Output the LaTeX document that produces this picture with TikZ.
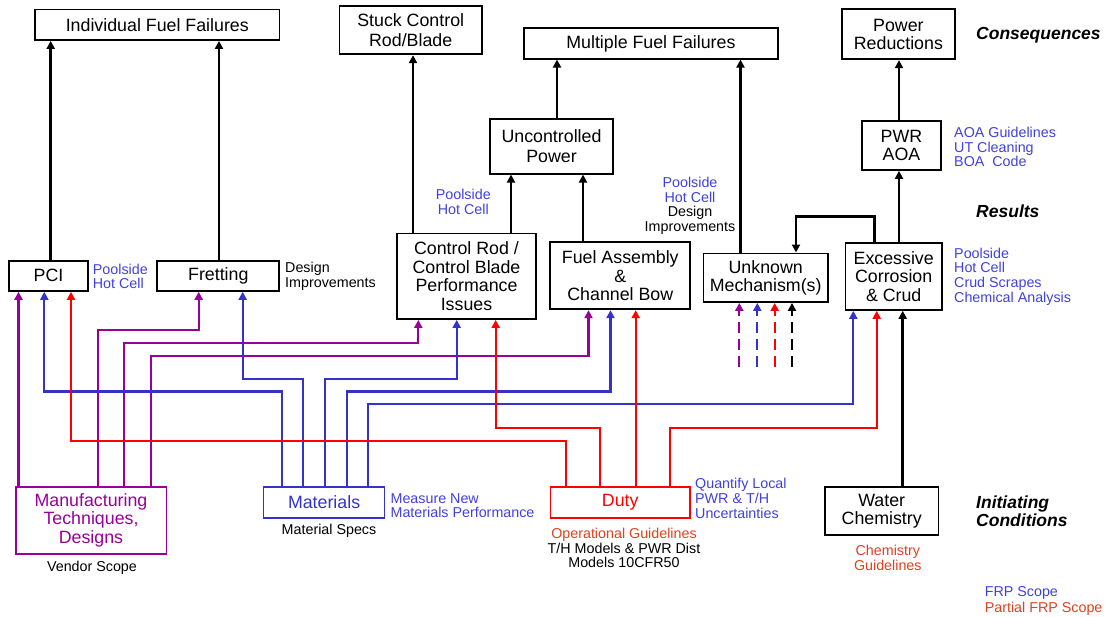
\documentclass[tikz,border=0pt]{standalone}
\usepackage{fontspec}
\setmainfont{Liberation Sans}
\usetikzlibrary{arrows.meta}
\definecolor{purp}{RGB}{153,0,153}
\definecolor{bline}{RGB}{51,51,204}
\definecolor{tblue}{RGB}{64,64,224}
\definecolor{rline}{RGB}{255,0,0}
\definecolor{orng}{RGB}{224,64,32}
\begin{document}
\begin{tikzpicture}[x=1pt,y=-1pt,
  box/.style={draw=black, line width=1.7pt, inner sep=0pt, align=center,
    font=\fontsize{17.8}{18.5}\selectfont},
  wide/.style={font=\fontsize{17.8}{20.5}\selectfont},
  note/.style={inner sep=0pt, align=left, font=\fontsize{14.3}{14.6}\selectfont},
  cnote/.style={inner sep=0pt, align=center, font=\fontsize{14.3}{14.8}\selectfont},
  lab/.style={inner sep=0pt, align=left, font=\fontsize{17.5}{18}\selectfont\bfseries\itshape, anchor=west},
  tipA/.style={-{Triangle[length=8pt,width=8pt]}},
  blk/.style={tipA, draw=black, line width=2.6pt},
  pl/.style={tipA, draw=purp, line width=2.2pt},
  bl/.style={tipA, draw=bline, line width=2.2pt},
  rl/.style={tipA, draw=rline, line width=2.2pt},
  dl/.style={tipA, line width=2.2pt, dash pattern=on 11pt off 6pt}
]
\useasboundingbox (0,0) rectangle (1108,616);

% consequences
\node[box, minimum width=244.6pt, minimum height=30.7pt] (indiv) at (157.3,24.7) {Individual Fuel Failures};
\node[box, wide, minimum width=142.7pt, minimum height=48.6pt] (stuck) at (410.7,30) {Stuck Control\\Rod/Blade};
\node[box, minimum width=253.7pt, minimum height=30.4pt] (multi) at (650.9,43.5) {Multiple Fuel Failures};
\node[box, minimum width=113pt, minimum height=50pt, font=\fontsize{17.8}{17.5}\selectfont] (power) at (898.4,34.3) {Power\\Reductions};
\node[lab] (lcons) at (976,35) {Consequences};

% results
\node[box, wide, minimum width=122.4pt, minimum height=55pt] (unc) at (551.5,146.2) {Uncontrolled\\Power};
\node[box, minimum width=79pt, minimum height=49.3pt] (pwr) at (901.5,145.3) {PWR\\AOA};
\node[note, anchor=west, text=tblue] (pwrn) at (954,147) {AOA Guidelines\\UT Cleaning\\BOA\ \ Code};
\node[lab] (lres) at (976,211) {Results};

\node[box, minimum width=79pt, minimum height=30.3pt] (pci) at (48.5,275.8) {PCI};
\node[note, anchor=west, text=tblue] (pcin) at (92.7,276.5) {Poolside\\Hot Cell};
\node[box, minimum width=122pt, minimum height=30.3pt] (fret) at (218.3,275.8) {Fretting};
\node[note, anchor=west] (fretn) at (285,276.5) {Design\\Improvements};
\node[box, minimum width=139.6pt, minimum height=85.7pt] (cr) at (466.5,276.2) {Control Rod /\\Control Blade\\Performance\\Issues};
\node[cnote, text=tblue] (crn) at (463.3,201.7) {Poolside\\Hot Cell};
\node[box, minimum width=140pt, minimum height=67pt] (fa) at (620.3,275.8) {Fuel Assembly\\\&\\Channel Bow};
\node[cnote] (unkn) at (690,205.8) {{\color{tblue}Poolside}\\{\color{tblue}Hot Cell}\\Design\\Improvements};
\node[box, minimum width=124.7pt, minimum height=48.7pt] (unk) at (765.7,277.7) {Unknown\\Mechanism(s)};
\node[box, minimum width=96.7pt, minimum height=67.3pt] (exc) at (893.7,276.3) {Excessive\\Corrosion\\\& Crud};
\node[note, anchor=west, text=tblue] (excn) at (954,276.5) {Poolside\\Hot Cell\\Crud Scrapes\\Chemical Analysis};

% initiating conditions
\node[box, draw=purp, text=purp, minimum width=150.7pt, minimum height=67.3pt] (mfg) at (91,520.3) {Manufacturing\\Techniques,\\Designs};
\node[cnote] (mfgn) at (92,567.5) {Vendor Scope};
\node[box, draw=bline, text=bline, minimum width=121pt, minimum height=31pt] (mat) at (324.1,502.2) {Materials};
\node[cnote] (matn) at (329,531) {Material Specs};
\node[note, anchor=west, text=tblue] (matr) at (390.4,505.5) {Measure New\\Materials Performance};
\node[box, draw=rline, text=rline, minimum width=139.7pt, minimum height=31pt] (duty) at (620.2,502.2) {Duty};
\node[cnote] (dutyn) at (624,548) {{\color{orng}Operational Guidelines}\\T/H Models \& PWR Dist\\Models 10CFR50};
\node[note, anchor=west, text=tblue] (dutyr) at (695,498.3) {Quantify Local\\PWR \& T/H\\Uncertainties};
\node[box, minimum width=113.5pt, minimum height=48.6pt] (water) at (881.7,511) {Water\\Chemistry};
\node[cnote, text=orng] (watern) at (887.8,557.5) {Chemistry\\Guidelines};
\node[lab] (linit) at (976,511) {Initiating\\Conditions};
\node[note, anchor=west, text=tblue] (leg1) at (984.6,593.3) {FRP Scope};
\node[note, anchor=west, text=orng] (leg2) at (984.6,608.3) {Partial FRP Scope};

% black connectors
\draw[blk] (pci.north -| 50.7,0) -- (indiv.south -| 50.7,0);
\draw[blk] (fret.north -| 219,0) -- (indiv.south -| 219,0);
\draw[blk] (cr.north -| 413,0) -- (stuck.south -| 413,0);
\draw[blk] (cr.north -| 511,0) -- (unc.south -| 511,0);
\draw[blk] (fa.north -| 583,0) -- (unc.south -| 583,0);
\draw[blk] (unc.north -| 557,0) -- (multi.south -| 557,0);
\draw[blk] (unk.north -| 740.5,0) -- (multi.south -| 740.5,0);
\draw[blk] (exc.north -| 899,0) -- (pwr.south -| 899,0);
\draw[blk] (pwr.north -| 899,0) -- (power.south -| 899,0);
\draw[blk] (exc.north -| 874.3,0) |- (796,216.7) -- (unk.north -| 796,0);
\draw[blk] (water.north -| 902.7,0) -- (exc.south -| 902.7,0);

% dashed stubs
\coordinate (d1) at (739.3,367);
\coordinate (d2) at (757.3,367);
\coordinate (d3) at (774.7,367);
\coordinate (d4) at (792,367);
\draw[dl, draw=purp] (d1) -- (unk.south -| d1);
\draw[dl, draw=bline] (d2) -- (unk.south -| d2);
\draw[dl, draw=rline] (d3) -- (unk.south -| d3);
\draw[dl, draw=black] (d4) -- (unk.south -| d4);

% purple connectors
\draw[pl] (mfg.north -| 18.5,0) -- (pci.south -| 18.5,0);
\draw[pl] (mfg.north -| 97.7,0) |- (198.7,330) -- (fret.south -| 198.7,0);
\draw[pl] (mfg.north -| 124.3,0) |- (418.3,343.3) -- (cr.south -| 418.3,0);
\draw[pl] (mfg.north -| 151,0) |- (588.5,356.3) -- (fa.south -| 588.5,0);

% blue connectors
\draw[bl] (mat.north -| 281.7,0) |- (44.3,391.5) -- (pci.south -| 44.3,0);
\draw[bl] (mat.north -| 303.3,0) |- (242.7,378.7) -- (fret.south -| 242.7,0);
\draw[bl] (mat.north -| 325,0) |- (456.7,378.7) -- (cr.south -| 456.7,0);
\draw[bl] (mat.north -| 346.7,0) |- (610.5,391.5) -- (fa.south -| 610.5,0);
\draw[bl] (mat.north -| 367.7,0) |- (853.3,404.3) -- (exc.south -| 853.3,0);

% red connectors
\draw[rl] (duty.north -| 565.7,0) |- (71,441) -- (pci.south -| 71,0);
\draw[rl] (duty.north -| 600.3,0) |- (495.7,428) -- (cr.south -| 495.7,0);
\draw[rl] (duty.north -| 635.7,0) -- (fa.south -| 635.7,0);
\draw[rl] (duty.north -| 670,0) |- (876.7,428) -- (exc.south -| 876.7,0);
\end{tikzpicture}
\end{document}
